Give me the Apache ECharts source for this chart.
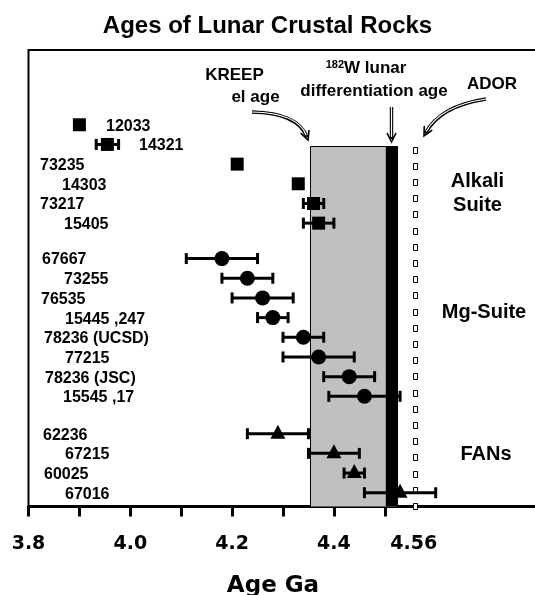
<!DOCTYPE html>
<html><head><meta charset="utf-8">
<script src="https://cdn.jsdelivr.net/npm/echarts@6/dist/echarts.min.js"></script>
<style>html,body{margin:0;padding:0;background:#fff}#c{width:535px;height:595px}</style>
</head><body><div id="c"></div>
<script>
// ---------- data ----------
const alkaliNames = ['12033', '14321', '73235', '14303', '73217', '15405'];
const alkaliAge   = [3.90, 3.955, 4.21, 4.33, 4.36, 4.37];
const alkaliErr   = [0, 0.022, 0, 0, 0.02, 0.03];
const alkaliRow   = [1, 2, 3, 4, 5, 6];

const mgNames = ['67667', '73255', '76535', '15445 ,247', '78236 (UCSD)', '77215', '78236 (JSC)', '15545 ,17'];
const mgAge   = [4.18, 4.23, 4.26, 4.28, 4.34, 4.37, 4.43, 4.46];
const mgErr   = [0.07, 0.05, 0.06, 0.03, 0.04, 0.07, 0.05, 0.07];
const mgRow   = [7.8, 8.8, 9.8, 10.8, 11.8, 12.8, 13.8, 14.8];

const fanNames = ['62236', '67215', '60025', '67016'];
const fanAge   = [4.29, 4.40, 4.44, 4.53];
const fanErr   = [0.06, 0.05, 0.02, 0.07];
const fanRow   = [16.7, 17.7, 18.7, 19.7];

const kreepBand = [4.354, 4.502];
const w182Band  = [4.502, 4.525];
const adorBand  = [4.555, 4.563];
const bandTopRow = 2.08;

const tickValues  = [3.8, 3.9, 4.0, 4.1, 4.2, 4.3, 4.4, 4.5];
const labelValues = [3.8, 4.0, 4.2, 4.4, 4.557];
const tickLabels  = ['3.8', '4.0', '4.2', '4.4', '4.56'];

// ---------- layout / style ----------
const Y_MIN = -2.8, Y_MAX = 20.4;
const alkaliLabelPx = [106, 139, 40, 62, 40, 64];
const mgLabelPx = [42, 64, 41, 65, 44, 65, 45, 63];
const fanLabelPx = [43, 65, 44, 65];
const AR = '"Liberation Sans", Arial, sans-serif';

function zip(a, b) { return a.map((v, i) => [v, b[i]]); }

function labelSeries(names, ages, rows, px) {
  return {
    type: 'custom', z: 5, silent: true,
    data: ages.map((a, i) => [a, rows[i]]),
    renderItem: function (params, api) {
      const i = params.dataIndex;
      const p = api.coord([api.value(0), api.value(1)]);
      return { type: 'text', x: px[i], y: p[1] + 1.5,
        style: { text: names[i], fill: '#000', font: 'bold 16px ' + AR, align: 'left', verticalAlign: 'middle' } };
    }
  };
}

function errSeries(ages, errs, rows) {
  return {
    type: 'custom', z: 3, silent: true,
    data: ages.map((a, i) => [a, errs[i], rows[i]]),
    renderItem: function (params, api) {
      const a = api.value(0), e = api.value(1), r = api.value(2);
      if (!e) return null;
      const l = api.coord([a - e, r]), rr = api.coord([a + e, r]);
      const st = { stroke: '#000', lineWidth: 3 };
      return { type: 'group', children: [
        { type: 'line', shape: { x1: l[0], y1: l[1], x2: rr[0], y2: rr[1] }, style: st },
        { type: 'line', shape: { x1: l[0], y1: l[1] - 5.5, x2: l[0], y2: l[1] + 5.5 }, style: st },
        { type: 'line', shape: { x1: rr[0], y1: rr[1] - 5.5, x2: rr[0], y2: rr[1] + 5.5 }, style: st }
      ] };
    }
  };
}

function markerSeries(ages, rows, symbol, size, offset) {
  return {
    type: 'scatter', z: 4, silent: true,
    symbol: symbol, symbolSize: size, symbolOffset: offset || [0, 0],
    itemStyle: { color: '#000', opacity: 1 },
    data: zip(ages, rows)
  };
}

const bandSeries = {
  type: 'custom', z: 1, silent: true,
  data: [[kreepBand[0], w182Band[1], adorBand[0], adorBand[1], kreepBand[1]]],
  renderItem: function (params, api) {
    const g0 = api.coord([kreepBand[0], bandTopRow]);
    const g1 = api.coord([w182Band[1], Y_MAX]);
    const b0 = api.coord([w182Band[0], bandTopRow]);
    const a0 = api.coord([adorBand[0], bandTopRow]);
    const a1 = api.coord([adorBand[1], Y_MAX]);
    const children = [
      { type: 'rect', shape: { x: Math.round(g0[0]) + 0.5, y: Math.round(g0[1]) + 0.5, width: g1[0] - g0[0], height: g1[1] - g0[1] },
        style: { fill: '#c0c0c0', stroke: '#000', lineWidth: 1 } },
      { type: 'rect', shape: { x: b0[0], y: b0[1], width: g1[0] - b0[0], height: g1[1] - b0[1] },
        style: { fill: '#000' } }
    ];
    for (let y = a0[1] + 0.5; y < a1[1] - 3; y += 16.2) {
      children.push({ type: 'rect', shape: { x: Math.round(a0[0]) + 0.5, y: Math.round(y) + 0.5, width: Math.round(a1[0] - a0[0]), height: 6 },
        style: { fill: '#fff', stroke: '#000', lineWidth: 1 } });
    }
    return { type: 'group', children: children };
  }
};

// ---------- annotation arrows ----------
function arrowGraphics(p0, cp, tip) {
  const dx = tip[0] - cp[0], dy = tip[1] - cp[1];
  const len = Math.hypot(dx, dy), ux = dx / len, uy = dy / len;
  const nx = -uy, ny = ux;
  const endShaft = [tip[0] - ux * 3, tip[1] - uy * 3];
  const shape = { x1: p0[0], y1: p0[1], x2: endShaft[0], y2: endShaft[1], cpx1: cp[0], cpy1: cp[1] };
  const h1 = [tip[0] - ux * 9 + nx * 4.5, tip[1] - uy * 9 + ny * 4.5];
  const h2 = [tip[0] - ux * 9 - nx * 4.5, tip[1] - uy * 9 - ny * 4.5];
  return [
    { type: 'bezierCurve', z: 10, shape: shape, style: { stroke: '#000', lineWidth: 3.4, fill: null } },
    { type: 'bezierCurve', z: 11, shape: Object.assign({}, shape, { x2: endShaft[0] - ux * 2, y2: endShaft[1] - uy * 2 }), style: { stroke: '#fff', lineWidth: 1.2, fill: null } },
    { type: 'polyline', z: 12, shape: { points: [h1, tip, h2] }, style: { stroke: '#000', lineWidth: 1.6, fill: null } }
  ];
}

function txt(text, x, y, size, extra) {
  return Object.assign({ type: 'text', z: 20, x: x, y: y,
    style: { text: text, fill: '#000', font: 'bold ' + size + 'px ' + AR, align: 'center', verticalAlign: 'middle' } }, extra || {});
}

const graphics = [].concat(
  arrowGraphics([252, 112], [298, 113], [308, 140]),
  arrowGraphics([391.5, 107], [391.5, 120], [391.5, 142]),
  arrowGraphics([486, 99], [440, 106], [424, 136]),
  [
    txt('KREEP', 234.5, 75.5, 17),
    txt('el age', 255.5, 97.5, 17),
    { type: 'text', z: 20, x: 366, y: 68.5,
      style: { text: '{s|182}W lunar', fill: '#000', font: 'bold 17px ' + AR, align: 'center', verticalAlign: 'middle',
        rich: { s: { fontSize: 11, fontWeight: 'bold', fontFamily: AR, verticalAlign: 'top', padding: [0, 0, 8, 0] } } } },
    txt('differentiation age', 374, 91, 17),
    txt('ADOR', 492, 84.5, 17),
    txt('Alkali', 477.5, 181.5, 20),
    txt('Suite', 477.5, 205, 20),
    txt('Mg-Suite', 484, 312, 20),
    txt('FANs', 486, 454, 20)
  ]
);

const chart = echarts.init(document.getElementById('c'), null, { renderer: 'canvas' });
chart.setOption({
  animation: false,
  backgroundColor: '#fff',
  title: {
    text: 'Ages of Lunar Crustal Rocks', left: 'center', top: 14, padding: 0,
    textStyle: { fontFamily: AR, fontWeight: 'bold', fontSize: 24, color: '#000' }
  },
  grid: { left: 28.5, top: 50, width: 509, height: 456.5, show: true, borderColor: '#000', borderWidth: 2,
    backgroundColor: 'transparent', containLabel: false, outerBoundsMode: 'none' },
  xAxis: {
    type: 'value', min: 3.8, max: 4.8,
    axisLine: { show: true, onZero: false, lineStyle: { color: '#000', width: 3 } },
    axisTick: { show: true, customValues: tickValues, length: 10, lineStyle: { color: '#000', width: 3 } },
    axisLabel: {
      customValues: labelValues, margin: 28, color: '#000', fontSize: 19, fontWeight: 'bold', fontFamily: 'DejaVu Sans',
      formatter: function (v) { const i = labelValues.findIndex(x => Math.abs(x - v) < 1e-6); return i >= 0 ? tickLabels[i] : ''; }
    },
    splitLine: { show: false },
    name: 'Age Ga', nameLocation: 'middle', nameGap: 68,
    nameTextStyle: { color: '#000', fontSize: 23, fontWeight: 'bold', fontFamily: 'DejaVu Sans', padding: [0, 20, 0, 0] }
  },
  yAxis: { type: 'value', inverse: true, min: Y_MIN, max: Y_MAX, show: false, splitLine: { show: false } },
  series: [
    bandSeries,
    errSeries(alkaliAge, alkaliErr, alkaliRow),
    errSeries(mgAge, mgErr, mgRow),
    errSeries(fanAge, fanErr, fanRow),
    markerSeries(alkaliAge, alkaliRow, 'rect', 13),
    markerSeries(mgAge, mgRow, 'circle', 15),
    markerSeries(fanAge, fanRow, 'triangle', [15, 14], [0, -2]),
    labelSeries(alkaliNames, alkaliAge, alkaliRow, alkaliLabelPx),
    labelSeries(mgNames, mgAge, mgRow, mgLabelPx),
    labelSeries(fanNames, fanAge, fanRow, fanLabelPx)
  ],
  graphic: graphics
});
</script>
</body></html>
